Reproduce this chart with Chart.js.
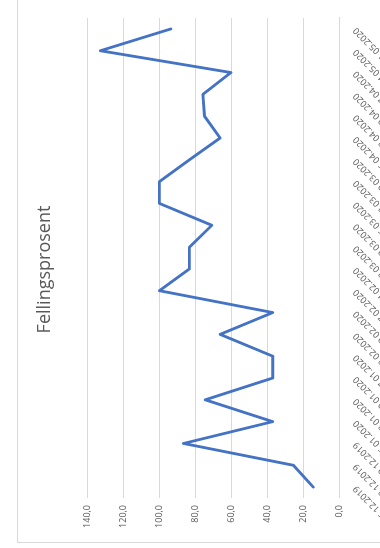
<!DOCTYPE html>
<html>
<head>
<meta charset="utf-8">
<script src="https://cdn.jsdelivr.net/npm/chart.js@4"></script>
<style>
  html, body { margin: 0; padding: 0; background: #fff; }
  body { width: 380px; height: 548px; overflow: hidden; position: relative; }
  /* the chart is drawn upright and then turned a quarter turn to the left */
  #turn {
    position: absolute; left: 0; top: 0;
    width: 560px; height: 430px;
    transform-origin: 0 0;
    transform: translate(0, 548px) rotate(-90deg);
  }
  #frame {
    position: absolute; left: 5px; top: 17px;
    width: 545px; height: 400px;
    border: 1px solid #d9d9d9;
  }
</style>
</head>
<body>
<div id="turn">
  <div id="frame">
    <canvas id="chart" width="545" height="400"></canvas>
  </div>
</div>
<script>
// dates (category axis)
const dates = [
  '16.12.2019', '23.12.2019', '30.12.2019',
  '06.01.2020', '13.01.2020', '20.01.2020', '27.01.2020', '03.02.2020', '10.02.2020',
  '17.02.2020', '24.02.2020', '02.03.2020', '09.03.2020', '16.03.2020', '23.03.2020',
  '30.03.2020', '06.04.2020', '13.04.2020', '20.04.2020', '27.04.2020', '04.05.2020', '11.05.2020'
];

// Fellingsprosent
const fellingsprosent = [
  14.3, 25.4, 86.6, 36.9, 74.5, 36.9, 36.9, 66.2, 36.9, 100.0, 83.3,
  83.3, 70.8, 100.0, 100.0, 83.3, 66.2, 74.9, 75.8, 60.2, 132.9, 93.6
];

const valueTicks = [0, 20, 40, 60, 80, 100, 120, 140];

const gray = '#595959';
const fontFamily = '"Open Sans", "Liberation Sans", sans-serif';

new Chart(document.querySelector('#chart').getContext('2d'), {
    type: 'line',
    data: {
        labels: dates,
        datasets: [{
            label: 'Fellingsprosent',
            data: fellingsprosent,
            borderColor: '#4472C4',
            backgroundColor: '#4472C4',
            borderWidth: 2.8,
            borderJoinStyle: 'round',
            borderCapStyle: 'round',
            pointRadius: 0,
            tension: 0
        }]
    },
    options: {
        responsive: false,
        animation: false,
        layout: { padding: 0 },
        plugins: {
            legend: { display: false },
            tooltip: { enabled: false },
            title: {
                display: true,
                text: 'Fellingsprosent',
                color: gray,
                font: { family: fontFamily, size: 18, weight: 'normal', lineHeight: 1.2 },
                padding: { top: 16, bottom: 32 }
            }
        },
        scales: {
            x: {
                offset: true,
                grid: { display: false },
                border: { display: true, color: '#d9d9d9', width: 1 },
                ticks: {
                    color: gray,
                    font: { family: fontFamily, size: 9 },
                    autoSkip: false,
                    minRotation: 45,
                    maxRotation: 45,
                    padding: 4
                },
                afterFit: scale => { scale.height = 79; }
            },
            y: {
                min: valueTicks[0],
                max: valueTicks[valueTicks.length - 1],
                afterBuildTicks: scale => {
                    scale.ticks = valueTicks.map(v => ({ value: v }));
                },
                grid: { color: '#d9d9d9', lineWidth: 1, drawTicks: false },
                border: { display: false },
                ticks: {
                    color: gray,
                    font: { family: fontFamily, size: 9 },
                    padding: 7,
                    callback: v => v.toFixed(1).replace('.', ',')
                },
                afterFit: scale => { scale.width = 44; }
            },
            // empty strip on the right, keeps the title centred on the whole chart
            right: {
                position: 'right',
                display: true,
                grid: { display: false },
                border: { display: false },
                ticks: { display: false },
                afterFit: scale => { scale.width = 21; }
            }
        }
    }
});
</script>
</body>
</html>
